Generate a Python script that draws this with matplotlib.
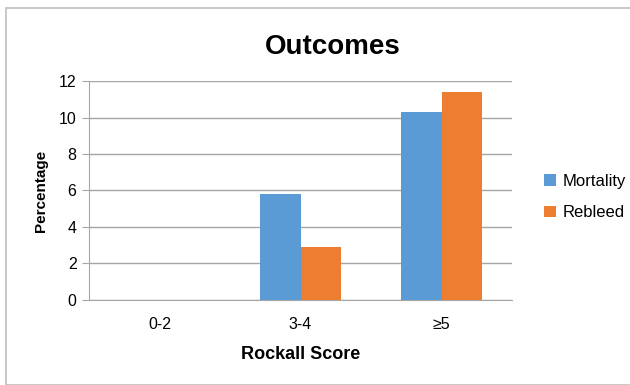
import matplotlib
matplotlib.use("Agg")
import matplotlib.pyplot as plt
from matplotlib.patches import Rectangle
import numpy as np

plt.rcParams['font.family'] = ['Liberation Sans', 'DejaVu Sans']

categories = ["0-2", "3-4", "\u22655"]
mortality = [0, 5.8, 10.3]
rebleed = [0, 2.9, 11.4]
yticks = [0, 2, 4, 6, 8, 10, 12]

blue = "#5b9bd5"
orange = "#ed7d31"
grid = "#a6a6a6"

fig = plt.figure(figsize=(6.3, 3.85), dpi=100)
fig.patches.append(Rectangle((0.009, 0.0), 0.995, 0.978, transform=fig.transFigure,
                             fill=False, edgecolor="#bfbfbf", linewidth=1.2))

ax = fig.add_axes([0.1413, 0.2208, 0.6714, 0.5688])
x = np.arange(len(categories))
w = 0.29
ax.bar(x - w / 2, mortality, w, color=blue, label="Mortality", zorder=3)
ax.bar(x + w / 2, rebleed, w, color=orange, label="Rebleed", zorder=3)

ax.set_xlim(-0.5, 2.5)
ax.set_ylim(0, 12)
ax.set_yticks(yticks)
ax.set_xticks(x)
ax.set_xticklabels(categories)
ax.yaxis.grid(True, color=grid, linewidth=1.0, zorder=0)
ax.tick_params(axis="y", length=5, color=grid, labelsize=11.5, pad=4)
ax.tick_params(axis="x", length=0, labelsize=11.5, pad=12)
for side in ("top", "right"):
    ax.spines[side].set_visible(False)
ax.spines["left"].set_color(grid)
ax.spines["bottom"].set_color(grid)

ax.set_ylabel("Percentage", fontsize=11, fontweight="bold", labelpad=8)
ax.set_xlabel("Rockall Score", fontsize=13, fontweight="bold", labelpad=10)
fig.text(0.528, 0.877, "Outcomes", ha="center", va="center", fontsize=20, fontweight="bold")

ax.legend(loc="center left", bbox_to_anchor=(1.04, 0.47), frameon=False,
          fontsize=12, handlelength=0.7, handleheight=0.7, labelspacing=1.0,
          handletextpad=0.4)

fig.savefig("out.png", dpi=100)
